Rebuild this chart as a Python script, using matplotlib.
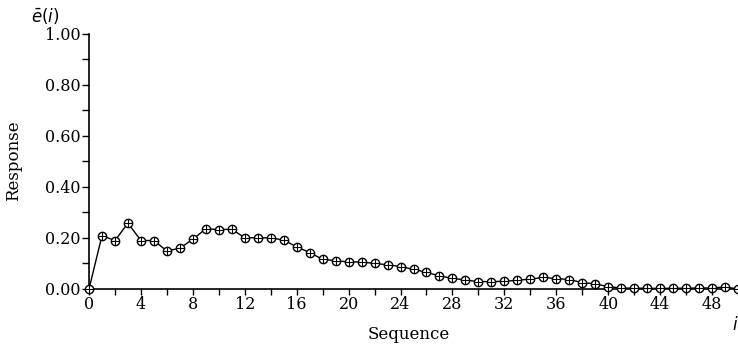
import numpy as np
import matplotlib
matplotlib.use("Agg")
import matplotlib.pyplot as plt
from matplotlib.ticker import MultipleLocator, FormatStrFormatter

# sequence index and mean response
seq = list(range(51))
response = [0.000, 0.209, 0.190, 0.258, 0.190, 0.190, 0.149, 0.160, 0.195, 0.236,
            0.233, 0.234, 0.201, 0.201, 0.200, 0.192, 0.165, 0.143, 0.116, 0.111,
            0.106, 0.106, 0.100, 0.095, 0.088, 0.077, 0.065, 0.051, 0.042, 0.035,
            0.029, 0.029, 0.030, 0.034, 0.039, 0.045, 0.041, 0.037, 0.025, 0.020,
            0.009, 0.004, 0.003, 0.003, 0.002, 0.003, 0.003, 0.004, 0.004, 0.008,
            0.000]
xticks = [0, 4, 8, 12, 16, 20, 24, 28, 32, 36, 40, 44, 48]

plt.rcParams['font.family'] = ['DejaVu Serif']

fig = plt.figure(figsize=(7.38, 3.49), dpi=100)
ax = fig.add_axes([0.1206, 0.172, 0.8794, 0.7307])

ax.plot(seq, response, color='black', lw=1.0, marker='o', ms=6,
        mfc='white', mec='black', mew=1.0, clip_on=False, zorder=3)
ax.plot(seq, response, ls='none', marker='+', ms=6, mec='black',
        mew=0.8, clip_on=False, zorder=4)

ax.set_xlim(0, 50)
ax.set_ylim(0, 1.0)
ax.set_xticks(xticks)
ax.xaxis.set_minor_locator(MultipleLocator(2))
ax.yaxis.set_major_locator(MultipleLocator(0.2))
ax.yaxis.set_minor_locator(MultipleLocator(0.1))
ax.yaxis.set_major_formatter(FormatStrFormatter('%.2f'))

for s in ['top', 'right']:
    ax.spines[s].set_visible(False)
for s in ['left', 'bottom']:
    ax.spines[s].set_linewidth(1.2)

ax.tick_params(which='both', direction='out', length=4, width=1.0, labelsize=11.5, pad=1)
ax.tick_params(axis='y', which='both', length=5)

ax.set_xlabel('Sequence', fontsize=12, va='center')
ax.xaxis.set_label_coords(0.493, -0.18)
ax.set_ylabel('Response', fontsize=12, va='center')
ax.yaxis.set_label_coords(-0.1156, 0.502)

fig.text(0.042, 0.955, r'$\bar{e}(i)$', fontsize=12, ha='left', va='center')
fig.text(0.992, 0.07, r'$i$', fontsize=12, ha='left', va='center')

fig.savefig('out.png', dpi=100)
